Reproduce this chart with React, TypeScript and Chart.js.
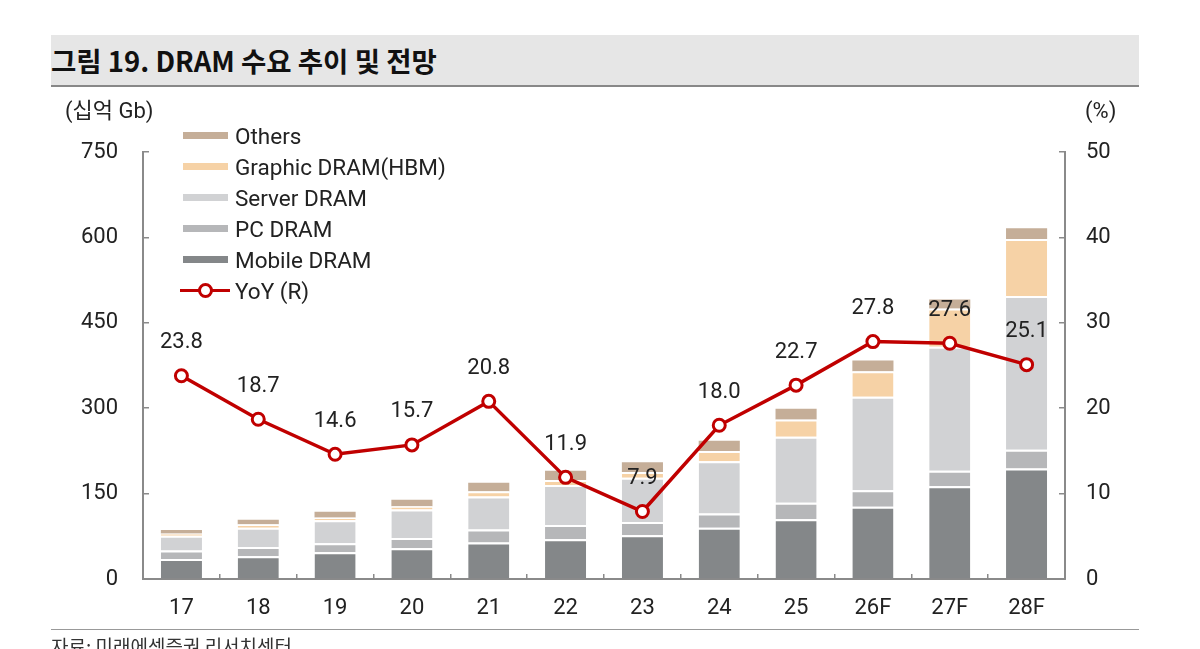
import React, { useEffect, useRef } from 'react';
import { Chart, registerables } from 'chart.js';

Chart.register(...registerables);

const categories = ['17', '18', '19', '20', '21', '22', '23', '24', '25', '26F', '27F', '28F'];
const mobileDram = [35, 40, 47, 54, 64, 70, 77, 90, 105, 127, 163, 194];
const pcDram = [15, 16, 16, 18, 23, 25, 23, 25, 29, 29, 27, 33];
const serverDram = [26, 34, 40, 50, 58, 70, 78, 92, 116, 164, 218, 270];
const graphicDram = [4, 6, 5, 6, 9, 9, 10, 18, 30, 45, 67, 100];
const othersDram = [6, 8, 10, 11, 15, 16, 17, 18, 19, 19, 16, 19];
const yoy = [23.8, 18.7, 14.6, 15.7, 20.8, 11.9, 7.9, 18.0, 22.7, 27.8, 27.6, 25.1];

const leftMax = 750;
const leftStep = 150;
const rightMax = 50;
const rightStep = 10;

const COLORS = {
  mobile: '#848789',
  pc: '#b6b7b9',
  server: '#d1d2d4',
  graphic: '#f6d2a6',
  others: '#c5ae98',
  red: '#c00000',
  axis: '#8a8a8a',
  text: '#222222',
};

const FONT = "Roboto, 'Noto Sans CJK KR', sans-serif";

const legendItems = [
  { label: 'Others', color: COLORS.others },
  { label: 'Graphic DRAM(HBM)', color: COLORS.graphic },
  { label: 'Server DRAM', color: COLORS.server },
  { label: 'PC DRAM', color: COLORS.pc },
  { label: 'Mobile DRAM', color: COLORS.mobile },
];

const yoyLabelPlugin = {
  id: 'yoyLabels',
  afterDatasetsDraw(chart: any) {
    const ctx = chart.ctx;
    chart.data.datasets.forEach((ds: any, i: number) => {
      if (ds.type !== 'line') return;
      const meta = chart.getDatasetMeta(i);
      ctx.save();
      ctx.font = `22px ${FONT}`;
      ctx.fillStyle = COLORS.text;
      ctx.textAlign = 'center';
      ctx.textBaseline = 'middle';
      meta.data.forEach((pt: any, j: number) => {
        ctx.fillText(ds.data[j].toFixed(1), pt.x, pt.y - 33);
      });
      ctx.restore();
    });
  },
};

export default function App() {
  const canvasRef = useRef<HTMLCanvasElement | null>(null);

  useEffect(() => {
    if (!canvasRef.current) return;
    const barDs = (label: string, data: number[], color: string, topGap: number) => ({
      type: 'bar' as const,
      label,
      data,
      backgroundColor: color,
      borderColor: '#ffffff',
      borderWidth: { top: topGap, bottom: 0, left: 0, right: 0 },
      borderSkipped: false,
      yAxisID: 'y',
      stack: 'dram',
      order: 1,
      categoryPercentage: 1,
      barPercentage: 0.535,
    });

    const chart = new Chart(canvasRef.current, {
      type: 'bar',
      data: {
        labels: categories,
        datasets: [
          {
            type: 'line',
            label: 'YoY (R)',
            data: yoy,
            yAxisID: 'y1',
            borderColor: COLORS.red,
            borderWidth: 3.5,
            pointRadius: 6,
            pointBorderWidth: 3,
            pointBackgroundColor: '#ffffff',
            pointBorderColor: COLORS.red,
            tension: 0,
            order: 0,
          } as any,
          barDs('Mobile DRAM', mobileDram, COLORS.mobile, 2),
          barDs('PC DRAM', pcDram, COLORS.pc, 2),
          barDs('Server DRAM', serverDram, COLORS.server, 2),
          barDs('Graphic DRAM(HBM)', graphicDram, COLORS.graphic, 2),
          barDs('Others', othersDram, COLORS.others, 0),
        ],
      },
      options: {
        responsive: false,
        animation: false,
        devicePixelRatio: 1,
        layout: { padding: { top: 152, bottom: 25, left: 0, right: 0 } },
        plugins: {
          legend: { display: false },
          tooltip: { enabled: false },
        },
        font: { family: FONT },
        scales: {
          x: {
            stacked: true,
            offset: true,
            grid: {
              display: true,
              offset: true,
              drawOnChartArea: false,
              drawTicks: true,
              tickLength: -5,
              color: COLORS.axis,
              lineWidth: 1.5,
            },
            border: { display: true, color: COLORS.axis, width: 2 },
            ticks: {
              color: COLORS.text,
              font: { size: 22, family: FONT },
              padding: 21,
              maxRotation: 0,
              autoSkip: false,
            },
            afterFit: (s: any) => {
              s.height = 45;
            },
          },
          y: {
            stacked: true,
            position: 'left',
            min: 0,
            max: leftMax,
            grid: {
              display: true,
              drawOnChartArea: false,
              drawTicks: true,
              tickLength: -6,
              color: COLORS.axis,
              lineWidth: 1.5,
            },
            border: { display: true, color: COLORS.axis, width: 2 },
            ticks: {
              stepSize: leftStep,
              color: COLORS.text,
              font: { size: 22, family: FONT },
              padding: 31,
            },
            afterFit: (s: any) => {
              s.width = 143;
            },
          },
          y1: {
            position: 'right',
            min: 0,
            max: rightMax,
            grid: {
              display: true,
              drawOnChartArea: false,
              drawTicks: true,
              tickLength: -6,
              color: COLORS.axis,
              lineWidth: 1.5,
            },
            border: { display: true, color: COLORS.axis, width: 2 },
            ticks: {
              stepSize: rightStep,
              color: COLORS.text,
              font: { size: 22, family: FONT },
              padding: 27,
            },
            afterFit: (s: any) => {
              s.width = 135;
            },
          },
        },
      } as any,
      plugins: [yoyLabelPlugin],
    });
    return () => chart.destroy();
  }, []);

  const textStyle: React.CSSProperties = {
    position: 'absolute',
    fontFamily: FONT,
    color: COLORS.text,
    fontSize: 22,
    lineHeight: '26px',
    whiteSpace: 'nowrap',
  };

  return (
    <div style={{ position: 'absolute', left: 0, top: 0, width: 1200, height: 649, background: '#fff', overflow: 'hidden' }}>
      <div
        style={{
          position: 'absolute',
          left: 51,
          top: 35,
          width: 1088,
          height: 50,
          background: '#e6e6e6',
          borderBottom: '2px solid #888',
        }}
      />
      <div
        style={{
          position: 'absolute',
          left: 51,
          top: 35,
          height: 50,
          lineHeight: '50px',
          fontFamily: "'Noto Sans CJK KR', sans-serif",
          fontWeight: 700,
          fontSize: 27.5,
          color: '#111',
          whiteSpace: 'nowrap',
        }}
      >
        그림 19. DRAM 수요 추이 및 전망
      </div>
      <canvas ref={canvasRef} width={1200} height={649} style={{ position: 'absolute', left: 0, top: 0, width: 1200, height: 649 }} />
      <div style={{ ...textStyle, left: 65, top: 98 }}>(십억 Gb)</div>
      <div style={{ ...textStyle, left: 1085, top: 98 }}>(%)</div>
      {legendItems.map((it, i) => (
        <React.Fragment key={it.label}>
          <div
            style={{
              position: 'absolute',
              left: 183,
              top: 135 + i * 31 - 3.5,
              width: 45,
              height: 7,
              background: it.color,
            }}
          />
          <div style={{ ...textStyle, fontSize: 22.5, left: 235, top: 135 + i * 31 - 12 }}>{it.label}</div>
        </React.Fragment>
      ))}
      <div style={{ position: 'absolute', left: 180, top: 290 - 1.5, width: 50, height: 3, background: COLORS.red }} />
      <div
        style={{
          position: 'absolute',
          left: 205 - 7.5,
          top: 290 - 7.5,
          width: 9,
          height: 9,
          borderRadius: '50%',
          background: '#fff',
          border: `3px solid ${COLORS.red}`,
        }}
      />
      <div style={{ ...textStyle, fontSize: 22.5, left: 235, top: 290 - 12 }}>YoY (R)</div>
      <div style={{ position: 'absolute', left: 51, top: 629, width: 1088, height: 1, background: '#999' }} />
      <div
        style={{
          position: 'absolute',
          left: 51,
          top: 634,
          fontFamily: "'Noto Sans CJK KR', sans-serif",
          fontSize: 19,
          lineHeight: '24px',
          color: '#333',
          whiteSpace: 'nowrap',
        }}
      >
        자료: 미래에셋증권 리서치센터
      </div>
    </div>
  );
}
